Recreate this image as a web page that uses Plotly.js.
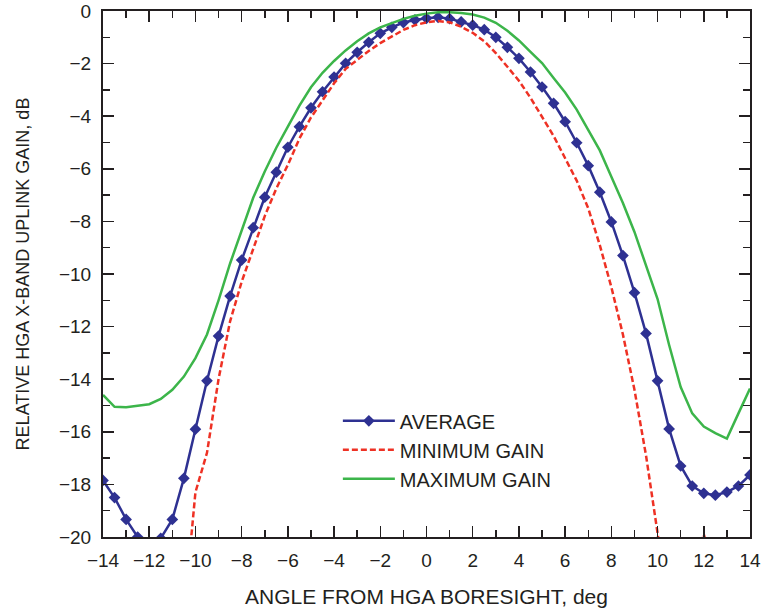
<!DOCTYPE html>
<html>
<head>
<meta charset="utf-8">
<script src="https://cdn.plot.ly/plotly-3.0.1.min.js"></script>
<style>html,body{margin:0;padding:0;background:#fff;}#chart{width:761px;height:614px;}</style>
</head>
<body>
<div id="chart"></div>
<script>
// Angles (deg) for the average curve, every 0.5 deg
const avgAngle = [-14,-13.5,-13,-12.5,-12,-11.5,-11,-10.5,-10,-9.5,-9,-8.5,-8,-7.5,-7,-6.5,-6,-5.5,-5,-4.5,-4,-3.5,-3,-2.5,-2,-1.5,-1,-0.5,0,0.5,1,1.5,2,2.5,3,3.5,4,4.5,5,5.5,6,6.5,7,7.5,8,8.5,9,9.5,10,10.5,11,11.5,12,12.5,13,13.5,14];
const avgGain = [-17.85,-18.5,-19.33,-20.0,-20.33,-20.05,-19.33,-17.77,-15.9,-14.06,-12.36,-10.84,-9.47,-8.24,-7.08,-6.13,-5.18,-4.40,-3.68,-3.07,-2.51,-1.99,-1.57,-1.19,-0.85,-0.62,-0.44,-0.34,-0.28,-0.24,-0.29,-0.41,-0.54,-0.71,-1.0,-1.38,-1.80,-2.32,-2.89,-3.51,-4.21,-5.01,-5.88,-6.89,-8.02,-9.30,-10.71,-12.26,-14.06,-15.89,-17.3,-18.06,-18.34,-18.41,-18.29,-18.06,-17.64];

const minAngle = [-10.5,-10,-9.5,-9,-8.5,-8,-7.5,-7,-6.5,-6,-5.5,-5,-4.5,-4,-3.5,-3,-2.5,-2,-1.5,-1,-0.5,0,0.5,1,1.5,2,2.5,3,3.5,4,4.5,5,5.5,6,6.5,7,7.5,8,8.5,9,9.5,10,10.5,11,11.5,12,12.5,13];
const minGain = [-23.0,-18.3,-16.8,-14.0,-11.8,-10.3,-9.05,-7.8,-6.75,-5.85,-4.85,-4.05,-3.4,-2.75,-2.2,-1.85,-1.52,-1.22,-0.98,-0.72,-0.54,-0.43,-0.38,-0.43,-0.6,-0.83,-1.15,-1.6,-2.12,-2.65,-3.3,-4.0,-4.75,-5.6,-6.45,-7.5,-8.9,-10.5,-12.3,-14.4,-16.9,-19.85,-23.0,-22.5,-21.5,-19.9,-21.5,-23.0];

const maxAngle = [-14,-13.5,-13,-12.5,-12,-11.5,-11,-10.5,-10,-9.5,-9,-8.5,-8,-7.5,-7,-6.5,-6,-5.5,-5,-4.5,-4,-3.5,-3,-2.5,-2,-1.5,-1,-0.5,0,0.5,1,1.5,2,2.5,3,3.5,4,4.5,5,5.5,6,6.5,7,7.5,8,8.5,9,9.5,10,10.5,11,11.5,12,12.5,13,13.5,14];
const maxGain = [-14.6,-15.05,-15.07,-15.02,-14.95,-14.75,-14.4,-13.9,-13.2,-12.3,-11.0,-9.6,-8.35,-7.1,-6.1,-5.2,-4.4,-3.6,-2.9,-2.35,-1.9,-1.5,-1.15,-0.85,-0.62,-0.45,-0.3,-0.18,-0.1,-0.05,-0.05,-0.08,-0.13,-0.25,-0.45,-0.75,-1.12,-1.55,-1.98,-2.55,-3.1,-3.75,-4.5,-5.3,-6.3,-7.3,-8.4,-9.65,-10.95,-12.7,-14.3,-15.3,-15.8,-16.05,-16.26,-15.3,-14.35];

const seriesNames = ['AVERAGE','MINIMUM GAIN','MAXIMUM GAIN'];
const xTickVals = [-14,-12,-10,-8,-6,-4,-2,0,2,4,6,8,10,12,14];
const yTickVals = [0,-2,-4,-6,-8,-10,-12,-14,-16,-18,-20];

const FONT = 'Liberation Sans, Arial, Helvetica, sans-serif';
const AXC = '#231f20';

const traces = [
  {x: avgAngle, y: avgGain, name: seriesNames[0], type: 'scatter', mode: 'lines+markers',
   line: {color: '#2e3192', width: 2.5},
   marker: {symbol: 'diamond', size: 9, color: '#2e3192'}},
  {x: minAngle, y: minGain, name: seriesNames[1], type: 'scatter', mode: 'lines',
   line: {color: '#ee3124', width: 2.5, dash: '6px,3px'}},
  {x: maxAngle, y: maxGain, name: seriesNames[2], type: 'scatter', mode: 'lines',
   line: {color: '#3cb54a', width: 2.5}}
];

const axisCommon = {
  showline: true, linecolor: AXC, linewidth: 2, mirror: 'allticks',
  ticks: 'inside', ticklen: 11, tickwidth: 1.5, tickcolor: AXC,
  showgrid: false, zeroline: false,
  ticklabeloverflow: 'allow',
  tickfont: {family: FONT, size: 19, color: AXC}
};

const layout = {
  width: 761, height: 614,
  margin: {l: 103, r: 11, t: 11, b: 77},
  paper_bgcolor: '#fff', plot_bgcolor: '#fff',
  font: {family: FONT, color: AXC},
  showlegend: true,
  legend: {x: 0.363, y: 0.258, xanchor: 'left', yanchor: 'top',
           font: {family: FONT, size: 20, color: AXC},
           bgcolor: 'rgba(0,0,0,0)', itemwidth: 52},
  xaxis: Object.assign({}, axisCommon, {
    range: [-14, 14], tickvals: xTickVals,
    minor: {dtick: 1, ticks: 'inside', ticklen: 7, tickcolor: AXC, tickwidth: 1.5},
    ticklabelstandoff: 5,
    title: {text: 'ANGLE FROM HGA BORESIGHT, deg', font: {family: FONT, size: 21, color: AXC}, standoff: 20}
  }),
  yaxis: Object.assign({}, axisCommon, {
    range: [-20, 0], tickvals: yTickVals,
    minor: {dtick: 1, ticks: 'inside', ticklen: 7, tickcolor: AXC, tickwidth: 1.5},
    ticklabelstandoff: 6,
    title: {text: 'RELATIVE HGA X-BAND UPLINK GAIN, dB', font: {family: FONT, size: 18, color: AXC}, standoff: 25}
  })
};

Plotly.newPlot('chart', traces, layout, {displayModeBar: false, staticPlot: true});
</script>
</body>
</html>
